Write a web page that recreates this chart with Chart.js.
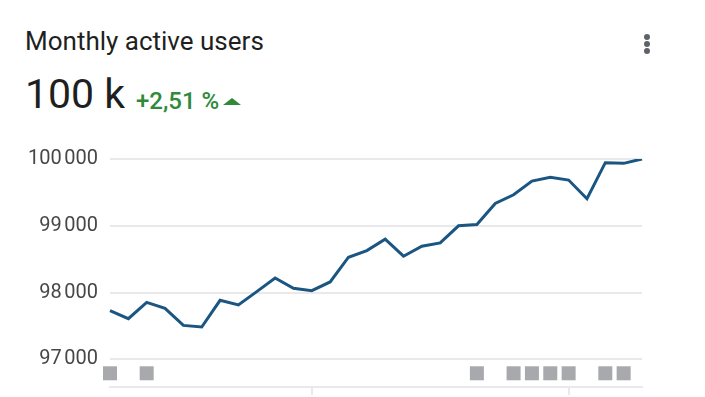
<!DOCTYPE html>
<html>
<head>
<meta charset="utf-8">
<script src="https://cdn.jsdelivr.net/npm/chart.js@4.4.1/dist/chart.umd.min.js"></script>
<style>
  html, body { margin: 0; padding: 0; background: #fff; }
  body { width: 705px; height: 397px; position: relative; overflow: hidden; font-family: Roboto, sans-serif; }
  #title { position: absolute; left: 25px; top: 28px; font-size: 26px; line-height: 26px; color: #1f1f1f; white-space: nowrap; }
  #big { position: absolute; left: 25px; top: 74px; font-size: 41px; line-height: 41px; color: #1f1f1f; white-space: nowrap; }
  #delta { position: absolute; left: 136px; top: 89px; font-size: 24px; line-height: 24px; color: #2f8a3b; font-weight: 500; white-space: nowrap; }
  #tri { position: absolute; left: 223px; top: 98px; width: 0; height: 0; border-left: 9px solid transparent; border-right: 9px solid transparent; border-bottom: 7px solid #2f8a3b; }
  .dot { position: absolute; left: 644px; width: 6px; height: 6px; border-radius: 50%; background: #5f6368; }
  #wrap { position: absolute; left: 0; top: 140px; width: 705px; height: 257px; }
</style>
</head>
<body>
<div id="title">Monthly active users</div>
<div id="big">100 k</div>
<div id="delta">+2,51 %</div>
<div id="tri"></div>
<div class="dot" style="top:34px"></div>
<div class="dot" style="top:41px"></div>
<div class="dot" style="top:48px"></div>
<div id="wrap"><canvas id="myChart" width="705" height="257"></canvas></div>

<script>
// 30 days of monthly active users
const days = [];
for (let i = 1; i <= 30; i++) days.push('Day ' + i);

const activeUsers = [
    97730, 97610, 97855, 97765, 97510, 97485, 97885, 97815, 98015, 98220,
    98065, 98030, 98160, 98530, 98630, 98800, 98545, 98695, 98745, 99000,
    99020, 99335, 99465, 99670, 99725, 99685, 99405, 99945, 99935, 100000
];

// grey squares under some days (1 = marked)
const markedDays = [
    1, 0, 1, 0, 0, 0, 0, 0, 0, 0,
    0, 0, 0, 0, 0, 0, 0, 0, 0, 0,
    1, 0, 1, 1, 1, 1, 0, 1, 1, 0
];

const yTickLabels = ['97\u202f000', '98\u202f000', '99\u202f000', '100\u202f000'];
const xTickDays = [11, 25];

const gridColor = '#e9e9ec';

const data = {
    labels: days,
    datasets: [
        {
            label: 'Monthly active users',
            data: activeUsers,
            yAxisID: 'y',
            borderColor: '#1b5683',
            borderWidth: 3,
            pointRadius: 0,
            tension: 0,
            fill: false,
        },
        {
            label: 'marks',
            data: markedDays.map(v => v ? v : null),
            yAxisID: 'm',
            showLine: false,
            pointStyle: 'rect',
            pointRadius: 9.9,
            pointBorderWidth: 0,
            pointBackgroundColor: '#a7a9ac',
            pointBorderColor: '#a7a9ac',
            clip: false,
        },
    ],
};

const config = {
    type: 'line',
    data: data,
    options: {
        responsive: false,
        animation: false,
        layout: { padding: { top: 19, right: 63, left: 0, bottom: 0 } },
        plugins: {
            legend: { display: false },
            tooltip: { enabled: false },
        },
        scales: {
            m: {
                type: 'linear',
                position: 'left',
                stack: 'v',
                stackWeight: 28,
                min: 0,
                max: 2,
                grid: { display: false },
                border: { display: false },
                ticks: { display: false },
                afterFit: (s) => { s.width = 110; },
            },
            y: {
                type: 'linear',
                position: 'left',
                stack: 'v',
                stackWeight: 203,
                min: 97000,
                max: 100000,
                grid: { color: gridColor, lineWidth: 2, drawTicks: true, tickLength: 12, tickColor: 'rgba(0,0,0,0)' },
                border: { display: false },
                ticks: {
                    stepSize: 1000,
                    padding: 0,
                    color: '#474747',
                    font: { family: 'Roboto', size: 20, lineHeight: 0.6 },
                    callback: (v, i) => yTickLabels[i],
                },
                afterFit: (s) => { s.width = 110; },
            },
            x: {
                grid: {
                    drawOnChartArea: false,
                    drawTicks: true,
                    tickLength: 8,
                    lineWidth: 2,
                    color: (ctx) => xTickDays.includes(ctx.index) ? gridColor : 'rgba(0,0,0,0)',
                },
                border: { color: gridColor, width: 2 },
                ticks: { display: false },
                afterFit: (s) => { s.height = 6; },
            },
        },
    },
};
new Chart(document.getElementById('myChart'), config);
</script>
</body>
</html>
